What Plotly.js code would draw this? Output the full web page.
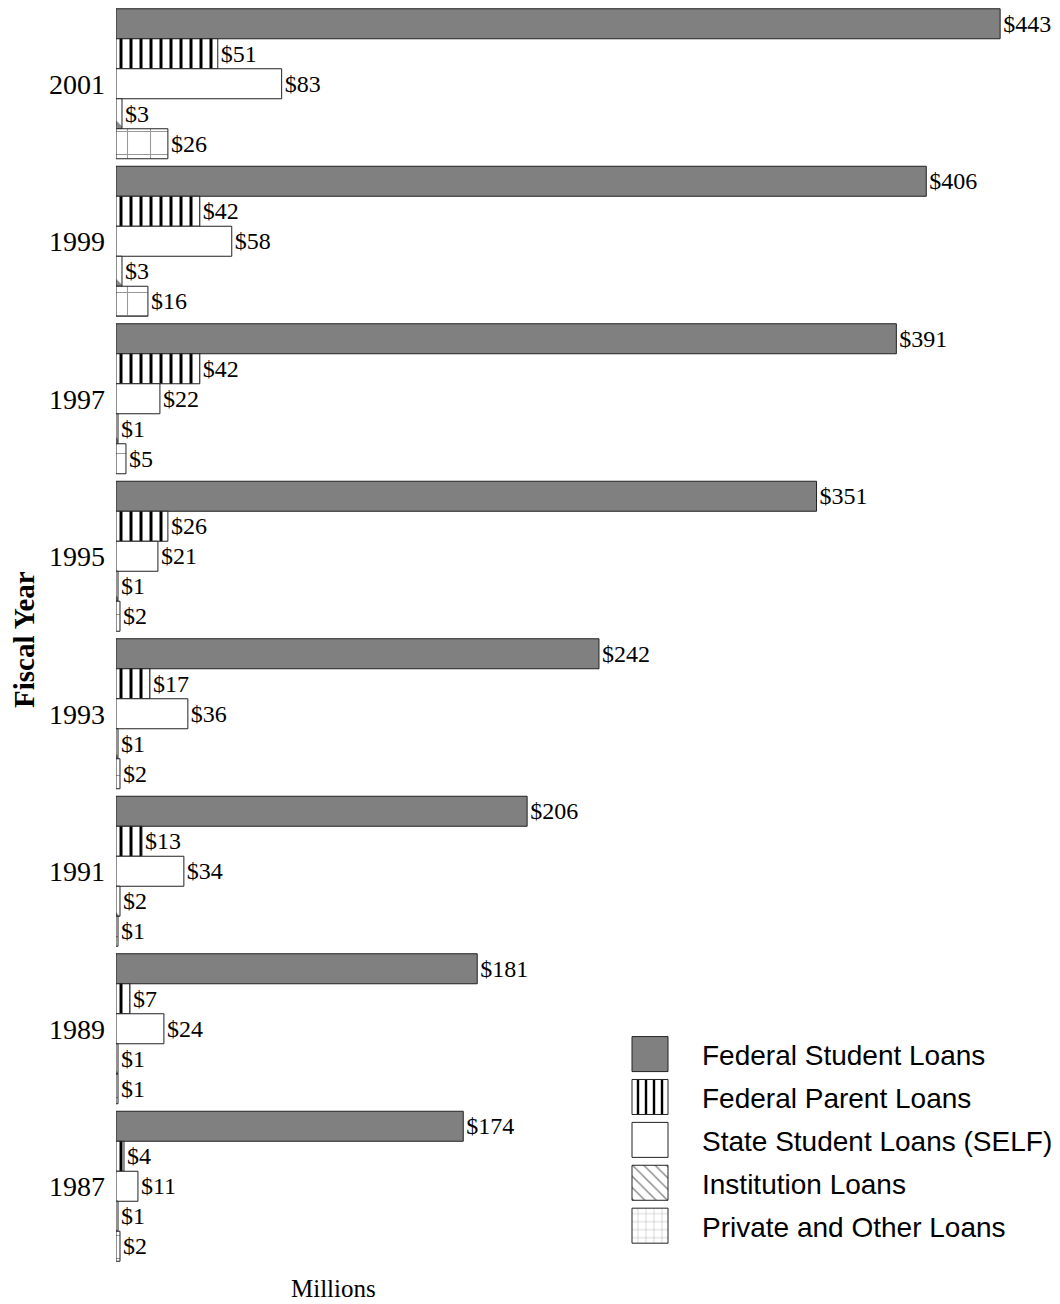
<!DOCTYPE html>
<html>
<head>
<meta charset="utf-8">
<script src="https://cdn.plot.ly/plotly-3.0.1.min.js"></script>
<style>html,body{margin:0;padding:0;background:#fff;}</style>
</head>
<body>
<div id="chart" style="width:1060px;height:1304px;"></div>
<script>
var years = ['2001', '1999', '1997', '1995', '1993', '1991', '1989', '1987'];
var seriesNames = ['Federal Student Loans', 'Federal Parent Loans', 'State Student Loans (SELF)', 'Institution Loans', 'Private and Other Loans'];
var federalStudent = [443, 406, 391, 351, 242, 206, 181, 174];
var federalParent = [51, 42, 42, 26, 17, 13, 7, 4];
var stateSelf = [83, 58, 22, 21, 36, 34, 24, 11];
var institution = [3, 3, 1, 1, 1, 2, 1, 1];
var privateOther = [26, 16, 5, 2, 2, 1, 1, 2];

var seriesValues = [federalStudent, federalParent, stateSelf, institution, privateOther];
var styles = [
  {color: '#808080'},
  {color: '#ffffff', pattern: {shape: '|', fgcolor: '#000000', bgcolor: '#ffffff', fgopacity: 1, size: 10, solidity: 0.3, fillmode: 'replace'}},
  {color: '#ffffff'},
  {color: '#ffffff', pattern: {shape: '\\', fgcolor: '#888888', bgcolor: '#ffffff', fgopacity: 1, size: 28, solidity: 0.18, fillmode: 'replace'}},
  {color: '#ffffff', pattern: {shape: '+', fgcolor: '#999999', bgcolor: '#ffffff', fgopacity: 1, size: 23, solidity: 0.09, fillmode: 'replace'}}
];

var serif = 'Liberation Serif, Times New Roman, serif';
var sans = 'Liberation Sans, Arial, sans-serif';

var traces = seriesNames.map(function (name, i) {
  var marker = {color: styles[i].color, line: {color: '#222222', width: 1}};
  if (styles[i].pattern) marker.pattern = styles[i].pattern;
  return {
    type: 'bar',
    orientation: 'h',
    name: name,
    legendgroup: 'g' + i,
    y: years,
    x: seriesValues[i],
    marker: marker,
    texttemplate: '$%{x}',
    textposition: 'outside',
    constraintext: 'none',
    cliponaxis: false,
    textfont: {family: serif, size: 24, color: '#000000'}
  };
});

var layout = {
  width: 1060,
  height: 1304,
  margin: {l: 116, r: 0, t: 5, b: 39, pad: 0},
  paper_bgcolor: '#ffffff',
  plot_bgcolor: '#ffffff',
  barmode: 'group',
  bargap: 0.0476,
  bargroupgap: 0,
  showlegend: true,
  legend: {
    x: 0.5445, xanchor: 'left',
    y: 0.187, yanchor: 'top',
    traceorder: 'grouped',
    tracegroupgap: 3.5,
    itemwidth: 62,
    font: {family: sans, size: 28, color: '#000000'},
    bgcolor: 'rgba(0,0,0,0)',
    borderwidth: 0
  },
  xaxis: {
    range: [0, 473],
    visible: false,
    showgrid: false,
    zeroline: false,
    fixedrange: true
  },
  yaxis: {
    type: 'category',
    categoryorder: 'array',
    categoryarray: years,
    autorange: 'reversed',
    showgrid: false,
    zeroline: false,
    showline: false,
    ticks: '',
    ticklabelstandoff: 10,
    tickfont: {family: serif, size: 28, color: '#000000'}
  },
  annotations: [
    {
      text: 'Fiscal Year',
      xref: 'paper', yref: 'paper',
      x: -0.0975, y: 0.4968,
      xanchor: 'center', yanchor: 'middle',
      textangle: -90,
      showarrow: false,
      font: {family: serif, size: 29, color: '#000000', weight: 'bold'}
    },
    {
      text: 'Millions',
      xref: 'paper', yref: 'paper',
      x: 0.2299, y: -0.019,
      xanchor: 'center', yanchor: 'middle',
      showarrow: false,
      font: {family: serif, size: 25, color: '#000000'}
    }
  ]
};

Plotly.newPlot('chart', traces, layout, {staticPlot: true, displayModeBar: false}).then(function (gd) {
  var items = gd.querySelectorAll('.legend .traces');
  items.forEach(function (it) {
    it.querySelectorAll('.legendpoints path').forEach(function (p) {
      p.setAttribute('d', 'M18,17.5H-18V-17.5H18Z');
      p.setAttribute('transform', 'translate(20,0)');
      p.style.strokeWidth = '1px';
    });
  });
});
</script>
</body>
</html>
